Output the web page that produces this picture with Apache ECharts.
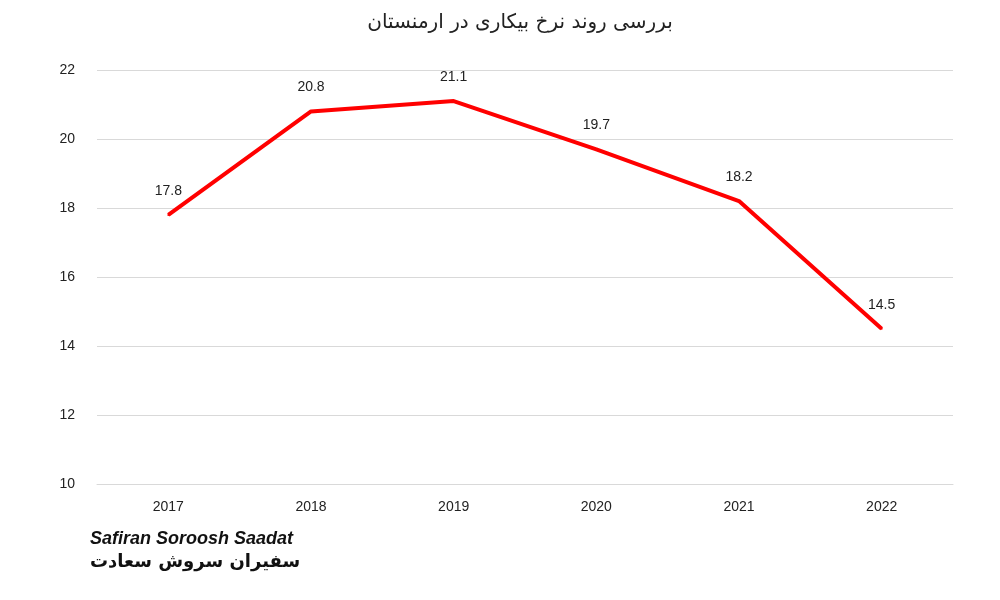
<!DOCTYPE html>
<html><head><meta charset="utf-8">
<script src="https://cdn.jsdelivr.net/npm/echarts@6/dist/echarts.min.js"></script>
<style>html,body{margin:0;padding:0;background:#fff}#c{width:1000px;height:600px}</style>
</head><body><div id="c"></div>
<script>
const categories = ['2017','2018','2019','2020','2021','2022'];
const values = [17.8, 20.8, 21.1, 19.7, 18.2, 14.5];
const titleText = 'بررسی روند نرخ بیکاری در ارمنستان';
const chart = echarts.init(document.getElementById('c'));
chart.setOption({
  backgroundColor:'#fff',
  title:{text:titleText,left:515,textAlign:'center',top:8,textStyle:{fontFamily:'DejaVu Sans',fontSize:20,fontWeight:'normal',color:'#222'}},
  grid:{left:97,right:47,top:70,bottom:116},
  xAxis:{type:'category',data:categories,boundaryGap:true,
    axisLine:{lineStyle:{color:'#d9d9d9'}},axisTick:{show:false},
    axisLabel:{color:'#222',fontSize:14,margin:16,fontFamily:'Liberation Sans'}},
  yAxis:{type:'value',min:10,max:22,interval:2,
    axisLine:{show:false},axisTick:{show:false},
    splitLine:{lineStyle:{color:'#d9d9d9'}},
    axisLabel:{color:'#222',fontSize:14,margin:22,fontFamily:'Liberation Sans'}},
  graphic:[
    {type:'text',left:90,top:530,style:{text:'Safiran Soroosh Saadat',font:'italic bold 18px Liberation Sans',fill:'#111'}},
    {type:'text',left:90,top:553,style:{text:'سفیران سروش سعادت',font:'bold 18px DejaVu Sans',fill:'#111'}}
  ],
  series:[{type:'line',data:values,symbol:'circle',symbolSize:2,showSymbol:true,
    itemStyle:{color:'#ff0000'},lineStyle:{color:'#ff0000',width:4},
    label:{show:true,position:'top',distance:16,color:'#222',fontSize:14,fontFamily:'Liberation Sans'},
    labelLayout:{hideOverlap:false}}]
});
</script></body></html>
